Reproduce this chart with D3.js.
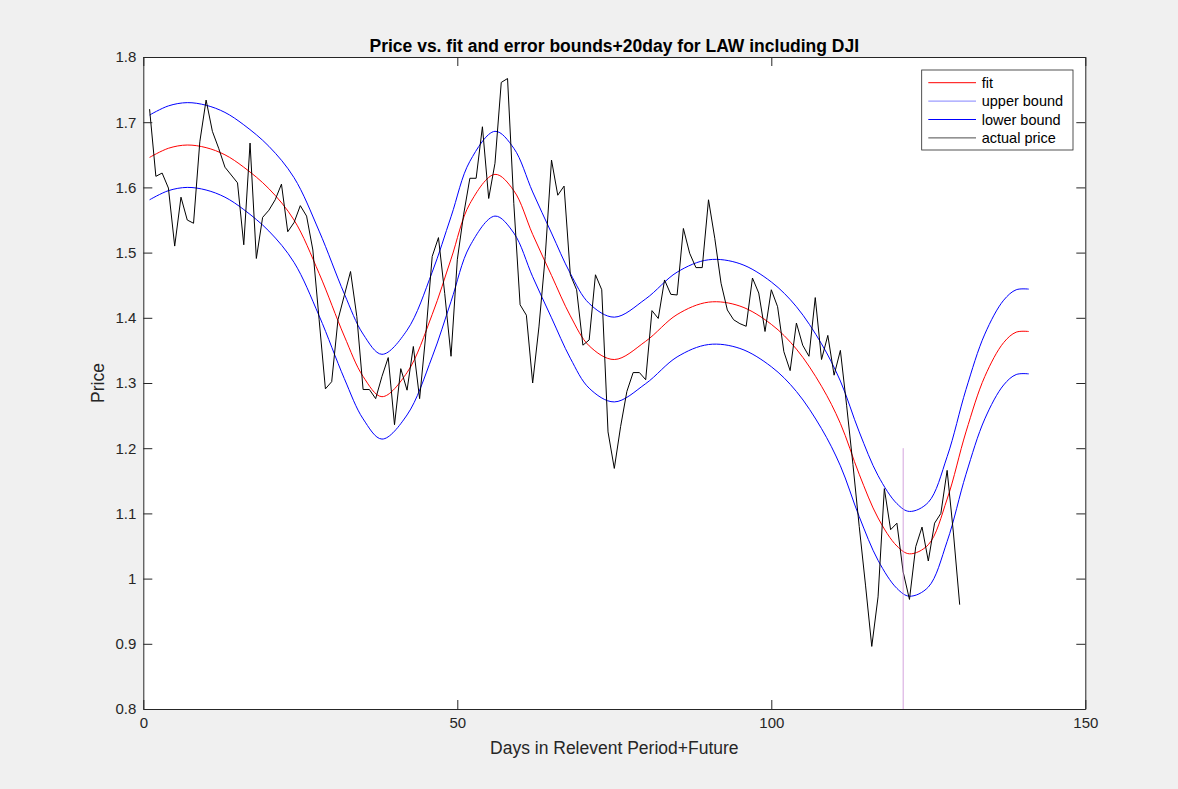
<!DOCTYPE html>
<html>
<head>
<meta charset="utf-8">
<script src="https://cdn.jsdelivr.net/npm/d3@7"></script>
<style>
body { margin: 0; background: #f0f0f0; }
text { font-family: "Liberation Sans", Arial, sans-serif; fill: #262626; }
</style>
</head>
<body>
<div id="chart"></div>
<script>
// actual price, one value per day starting at day 1
var priceDays = d3.range(1, 131);
var price = [
    1.720, 1.617, 1.622, 1.599, 1.510, 1.585, 1.550, 1.545, 1.670, 1.734,
    1.686, 1.660, 1.631, 1.619, 1.607, 1.512, 1.668, 1.491, 1.554, 1.565,
    1.581, 1.605, 1.532, 1.546, 1.572, 1.556, 1.504, 1.397, 1.291, 1.302,
    1.397, 1.434, 1.471, 1.402, 1.290, 1.290, 1.276, 1.310, 1.339, 1.236,
    1.322, 1.289, 1.356, 1.276, 1.376, 1.494, 1.523, 1.437, 1.341, 1.489,
    1.558, 1.614, 1.614, 1.693, 1.583, 1.637, 1.761, 1.767, 1.575, 1.420,
    1.404, 1.300, 1.386, 1.494, 1.642, 1.588, 1.602, 1.466, 1.443, 1.358,
    1.366, 1.466, 1.443, 1.225, 1.169, 1.233, 1.287, 1.316, 1.316, 1.305,
    1.411, 1.399, 1.458, 1.436, 1.435, 1.537, 1.499, 1.477, 1.477, 1.581,
    1.522, 1.453, 1.412, 1.397, 1.391, 1.387, 1.461, 1.438, 1.379, 1.443,
    1.417, 1.348, 1.319, 1.392, 1.358, 1.341, 1.431, 1.336, 1.373, 1.312,
    1.350, 1.265, 1.175, 1.080, 0.990, 0.896, 0.972, 1.138, 1.075, 1.085,
    1.010, 0.968, 1.049, 1.079, 1.027, 1.085, 1.100, 1.166, 1.070, 0.960
];

// fit and bounds, read at these days
var fitDays = [1, 4, 7, 10, 13, 16, 20, 24, 28, 32, 35, 38, 42, 46, 49, 52, 56,
    59, 62, 65, 68, 71, 75, 80, 85, 90, 95, 100, 104, 108, 111, 114, 117, 120, 122,
    125, 128, 131, 134, 137, 139, 141];
var fit = [1.646, 1.660, 1.665, 1.661, 1.650, 1.631, 1.598, 1.550, 1.468, 1.372, 1.310,
    1.279, 1.316, 1.405, 1.490, 1.575, 1.620, 1.595, 1.528, 1.465, 1.403,
    1.357, 1.336, 1.364, 1.405, 1.424, 1.418, 1.390, 1.352, 1.295, 1.238, 1.160, 1.093,
    1.050, 1.038, 1.052, 1.122, 1.225, 1.310, 1.362, 1.378, 1.379];
var upper = [1.711, 1.725, 1.730, 1.726, 1.715, 1.696, 1.663, 1.615, 1.533, 1.437, 1.375,
    1.344, 1.381, 1.470, 1.555, 1.640, 1.686, 1.660, 1.593, 1.530, 1.468,
    1.422, 1.401, 1.429, 1.470, 1.489, 1.483, 1.455, 1.417, 1.360, 1.303, 1.225, 1.158,
    1.115, 1.103, 1.117, 1.187, 1.290, 1.375, 1.427, 1.443, 1.444];
var lower = [1.581, 1.595, 1.600, 1.596, 1.585, 1.566, 1.533, 1.485, 1.403, 1.307, 1.245,
    1.214, 1.251, 1.340, 1.425, 1.510, 1.556, 1.530, 1.463, 1.400, 1.338,
    1.292, 1.271, 1.299, 1.340, 1.359, 1.353, 1.325, 1.287, 1.230, 1.173, 1.095, 1.028,
    0.985, 0.973, 0.987, 1.057, 1.160, 1.245, 1.297, 1.313, 1.314];

var splitDay = 121;
var splitTop = 1.2;

var xTicks = [0, 50, 100, 150];
var yTicks = [0.8, 0.9, 1, 1.1, 1.2, 1.3, 1.4, 1.5, 1.6, 1.7, 1.8];
var legendLabels = ["fit", "upper bound", "lower bound", "actual price"];
var legendColors = ["#ff0000", "#8484ff", "#0000ff", "#4d4d4d"];

var width = 1178, height = 789;
var plotLeft = 143.3, plotRight = 1085.3, plotTop = 57, plotBottom = 709;

var svg = d3.select("#chart")
    .append("svg")
    .attr("width", width)
    .attr("height", height);

svg.append("rect")
    .attr("width", width)
    .attr("height", height)
    .style("fill", "#f0f0f0");

var x = d3.scaleLinear().domain([0, 150]).range([plotLeft, plotRight]);
var y = d3.scaleLinear().domain([0.8, 1.8]).range([plotBottom, plotTop]);

svg.append("rect")
    .attr("x", plotLeft)
    .attr("y", plotTop)
    .attr("width", plotRight - plotLeft)
    .attr("height", plotBottom - plotTop)
    .style("fill", "#fff");

var fmt = function(d) { return String(+d.toFixed(1)); };

function styleAxis(g) {
    g.select(".domain").style("stroke", "#262626");
    g.selectAll(".tick line").style("stroke", "#262626");
    g.selectAll(".tick text")
        .style("font-size", "15px")
        .style("fill", "#262626")
        .style("font-family", "'Liberation Sans', Arial, sans-serif");
}

var plot = svg.append("g");

var smooth = d3.line()
    .x(function(d) { return x(d[0]); })
    .y(function(d) { return y(d[1]); })
    .curve(d3.curveCatmullRom.alpha(0.5));
var straight = d3.line()
    .x(function(d) { return x(d[0]); })
    .y(function(d) { return y(d[1]); });

plot.append("path")
    .datum(d3.zip(fitDays, fit))
    .attr("d", smooth)
    .style("fill", "none")
    .style("stroke", "#ff0000")
    .style("stroke-width", 1);
plot.append("path")
    .datum(d3.zip(fitDays, upper))
    .attr("d", smooth)
    .style("fill", "none")
    .style("stroke", "#0000ff")
    .style("stroke-width", 1);
plot.append("path")
    .datum(d3.zip(fitDays, lower))
    .attr("d", smooth)
    .style("fill", "none")
    .style("stroke", "#0000ff")
    .style("stroke-width", 1);
plot.append("path")
    .datum(d3.zip(priceDays, price))
    .attr("d", straight)
    .style("fill", "none")
    .style("stroke", "#000")
    .style("stroke-width", 1);

plot.append("line")
    .attr("x1", x(splitDay))
    .attr("x2", x(splitDay))
    .attr("y1", y(splitTop))
    .attr("y2", y(0.8))
    .style("stroke", "#c98bd6")
    .style("stroke-width", 0.8);

svg.append("g")
    .attr("transform", "translate(0," + plotBottom + ")")
    .call(d3.axisBottom(x).tickValues(xTicks).tickSizeInner(-9).tickSizeOuter(0).tickPadding(8).tickFormat(fmt))
    .call(styleAxis);
svg.append("g")
    .attr("transform", "translate(0," + plotTop + ")")
    .call(d3.axisTop(x).tickValues(xTicks).tickSizeInner(-9).tickSizeOuter(0).tickFormat(""))
    .call(styleAxis);
svg.append("g")
    .attr("transform", "translate(" + plotLeft + ",0)")
    .call(d3.axisLeft(y).tickValues(yTicks).tickSizeInner(-9).tickSizeOuter(0).tickPadding(7).tickFormat(fmt))
    .call(styleAxis);
svg.append("g")
    .attr("transform", "translate(" + plotRight + ",0)")
    .call(d3.axisRight(y).tickValues(yTicks).tickSizeInner(-9).tickSizeOuter(0).tickFormat(""))
    .call(styleAxis);

// legend
var legend = svg.append("g");
legend.append("rect")
    .attr("x", 921.7)
    .attr("y", 70)
    .attr("width", 151.3)
    .attr("height", 80)
    .style("fill", "#fff")
    .style("stroke", "#262626")
    .style("stroke-width", 0.8);
legendLabels.forEach(function(label, i) {
    var ly = 82.7 + i * 18.4;
    legend.append("line")
        .attr("x1", 928.3)
        .attr("x2", 976)
        .attr("y1", ly)
        .attr("y2", ly)
        .style("stroke", legendColors[i])
        .style("stroke-width", 1);
    legend.append("text")
        .attr("x", 981.7)
        .attr("y", ly + 5)
        .style("font-size", "14.5px")
        .style("fill", "#000")
        .text(label);
});

svg.append("text")
    .attr("x", (plotLeft + plotRight) / 2)
    .attr("y", 52)
    .style("text-anchor", "middle")
    .style("font-size", "17.5px")
    .style("font-weight", "bold")
    .style("fill", "#000")
    .text("Price vs. fit and error bounds+20day for LAW including DJI");

svg.append("text")
    .attr("x", (plotLeft + plotRight) / 2)
    .attr("y", 754)
    .style("text-anchor", "middle")
    .style("font-size", "17.5px")
    .text("Days in Relevent Period+Future");

svg.append("text")
    .attr("transform", "translate(104," + (plotTop + plotBottom) / 2 + ") rotate(-90)")
    .style("text-anchor", "middle")
    .style("font-size", "17.5px")
    .text("Price");
</script>
</body>
</html>
